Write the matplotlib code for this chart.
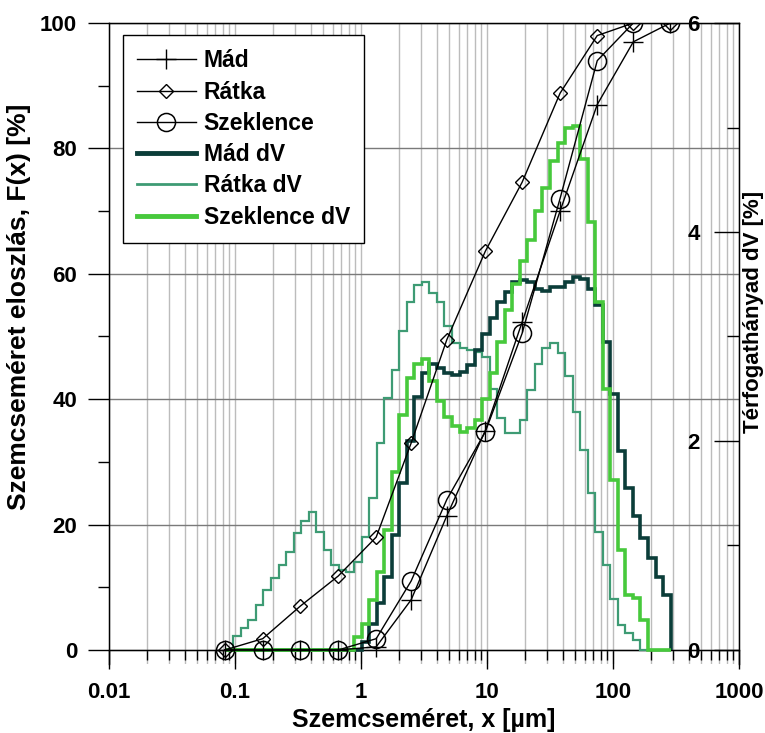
import matplotlib
matplotlib.use("Agg")
import matplotlib.pyplot as plt
from matplotlib.lines import Line2D
from matplotlib.ticker import FixedLocator, FixedFormatter, LogLocator, NullFormatter

plt.rcParams['font.family'] = ['Liberation Sans', 'DejaVu Sans']
plt.rcParams['font.weight'] = 'bold'

# ---- cumulative distribution F(x) [%] (left axis) ----
sizes = [0.083, 0.166, 0.33, 0.66, 1.32, 2.5, 4.8, 9.7, 19, 38, 75, 145, 285]
F_mad = [0, 0, 0, 0, 0.5, 8, 21.4, 35, 52.3, 70, 87, 97, 100]
F_ratka = [0, 1.8, 7, 11.8, 18, 33, 49.5, 63.6, 74.6, 88.8, 98, 100, 100]
F_szeklence = [0, 0, 0, 0, 1.8, 11, 24, 34.8, 50.5, 72, 94, 100, 100]

# ---- volume fraction dV [%] per size class (right axis) ----
bin_edges = [0.0845, 0.0970, 0.1113, 0.1278, 0.1467, 0.1683, 0.1932, 0.2218, 0.2545, 0.2921,
             0.3352, 0.3848, 0.4416, 0.5068, 0.5817, 0.6677, 0.7663, 0.8796, 1.0095, 1.1586,
             1.3298, 1.5262, 1.7517, 2.0105, 2.3075, 2.6484, 3.0397, 3.4888, 4.0042, 4.5958,
             5.2747, 6.0540, 6.9484, 7.9749, 9.1531, 10.505, 12.057, 13.839, 15.883, 18.230,
             20.923, 24.014, 27.562, 31.634, 36.308, 41.672, 47.829, 54.895, 63.005, 72.313,
             82.996, 95.258, 109.33, 125.48, 144.02, 165.30, 189.72, 217.75, 249.92, 286.84]

dV_ratka = [0, 0.13, 0.21, 0.29, 0.43, 0.57, 0.69, 0.81, 0.94, 1.12,
            1.23, 1.32, 1.13, 0.96, 0.81, 0.77, 0.75, 0.84, 1.08, 1.45,
            1.98, 2.41, 2.68, 3.05, 3.33, 3.49, 3.52, 3.42, 3.33, 3.10,
            2.94, 2.89, 2.87, 2.85, 2.80, 2.50, 2.22, 2.08, 2.08, 2.20,
            2.49, 2.74, 2.89, 2.94, 2.84, 2.62, 2.28, 1.91, 1.50, 1.13,
            0.81, 0.49, 0.24, 0.16, 0.10, 0, 0, 0, 0]

dV_mad = [0, 0, 0, 0, 0, 0, 0, 0, 0, 0,
          0, 0, 0, 0, 0, 0, 0, 0, 0.08, 0.25,
          0.45, 0.70, 1.10, 1.60, 2.00, 2.42, 2.65, 2.74, 2.70, 2.65,
          2.63, 2.66, 2.73, 2.87, 3.02, 3.18, 3.33, 3.43, 3.52, 3.54,
          3.52, 3.45, 3.44, 3.47, 3.47, 3.52, 3.57, 3.55, 3.45, 3.30,
          2.95, 2.45, 1.90, 1.55, 1.28, 1.07, 0.88, 0.70, 0.53]

dV_szeklence = [0, 0, 0, 0, 0, 0, 0, 0, 0, 0,
                0, 0, 0, 0, 0, 0, 0, 0.12, 0.25, 0.48,
                0.75, 1.15, 1.70, 2.25, 2.60, 2.74, 2.78, 2.57, 2.38, 2.23,
                2.14, 2.09, 2.12, 2.20, 2.40, 2.65, 2.95, 3.25, 3.50, 3.72,
                3.92, 4.20, 4.42, 4.68, 4.85, 5.00, 5.01, 4.70, 4.10, 3.33,
                2.50, 1.63, 0.96, 0.53, 0.50, 0.29, 0, 0, 0]

x_ticks = [0.01, 0.1, 1, 10, 100, 1000]
x_tick_labels = ['0.01', '0.1', '1', '10', '100', '1000']
F_ticks = [0, 20, 40, 60, 80, 100]
F_minor = [10, 30, 50, 70, 90]
dV_ticks = [0, 2, 4, 6]
dV_minor = [1, 3, 5]

C_MAD = '#0b3d39'
C_RATKA = '#3e9b74'
C_SZEK = '#47c93c'

fig = plt.figure(figsize=(7.65, 7.33), dpi=100)
pos = [0.1425, 0.0936, 0.8235, 0.875]
ax = fig.add_axes(pos)
ax.set_xscale('log')
ax.set_xlim(0.01, 1000)
ax.set_ylim(-2.3, 100)

# axes styling
ax.spines['bottom'].set_position(('data', 0))
for s in ax.spines.values():
    s.set_color('black')
    s.set_linewidth(1)
ax.xaxis.set_major_locator(FixedLocator(x_ticks))
ax.xaxis.set_major_formatter(FixedFormatter(x_tick_labels))
ax.xaxis.set_minor_locator(LogLocator(base=10, subs=[2, 3, 4, 5, 6, 7, 8, 9], numticks=20))
ax.xaxis.set_minor_formatter(NullFormatter())
ax.yaxis.set_major_locator(FixedLocator(F_ticks))
ax.yaxis.set_minor_locator(FixedLocator(F_minor))
ax.tick_params(axis='x', which='major', direction='out', length=14, width=1, labelsize=16, pad=9)
ax.tick_params(axis='x', which='minor', direction='out', length=7, width=1)
ax.tick_params(axis='y', which='major', direction='out', length=15, width=1, labelsize=16, pad=8)
ax.tick_params(axis='y', which='minor', direction='out', length=8, width=1)
ax.tick_params(top=False, right=False, which='both')
ax.grid(True, which='both', axis='x', color='#bcbcbc', lw=1)
ax.grid(True, which='major', axis='y', color='#7a7a7a', lw=1)
ax.set_axisbelow(True)

ax.set_xlabel('Szemcseméret, x [µm]', fontsize=18, fontweight='bold')
ax.xaxis.set_label_coords(0.5, -0.068)
ax.set_ylabel('Szemcseméret eloszlás, F(x) [%]', fontsize=19, fontweight='bold')
ax.yaxis.set_label_coords(-0.124, 0.558)

# right axis (dV)
ax2 = ax.twinx()
ax2.set_ylim(-0.138, 6)
ax2.spines['bottom'].set_visible(False)
ax2.yaxis.set_major_locator(FixedLocator(dV_ticks))
ax2.yaxis.set_minor_locator(FixedLocator(dV_minor))
ax2.tick_params(axis='y', which='major', direction='in', length=18, width=1, labelsize=16, pad=-37)
ax2.tick_params(axis='y', which='minor', direction='in', length=9, width=1)
ax2.set_ylabel('Térfogathányad dV [%]', fontsize=16, fontweight='bold')
ax2.yaxis.set_label_coords(1.006, 0.55)

ax2.stairs(dV_ratka, bin_edges, baseline=0, color=C_RATKA, lw=1.6)
ax2.stairs(dV_mad, bin_edges, baseline=0, color=C_MAD, lw=2.6)
ax2.stairs(dV_szeklence, bin_edges, baseline=0, color=C_SZEK, lw=2.6)

# cumulative curves on top
axc = fig.add_axes(pos, sharex=ax, sharey=ax)
axc.set_zorder(ax2.get_zorder() + 1)
axc.patch.set_visible(False)
axc.axis('off')
axc.plot(sizes, F_mad, color='black', lw=1, marker='+', ms=14, mew=1)
axc.plot(sizes, F_ratka, color='black', lw=1, marker='D', ms=7.5, mfc='none', mew=1)
axc.plot(sizes, F_szeklence, color='black', lw=1, marker='o', ms=13, mfc='none', mew=1.1)

handles = [
    Line2D([], [], color='black', lw=1, marker='+', ms=14, mew=1),
    Line2D([], [], color='black', lw=1, marker='D', ms=7.5, mfc='none', mew=1),
    Line2D([], [], color='black', lw=1, marker='o', ms=13, mfc='none', mew=1.1),
    Line2D([], [], color=C_MAD, lw=3.5),
    Line2D([], [], color=C_RATKA, lw=2),
    Line2D([], [], color=C_SZEK, lw=3.5),
]
labels = ['Mád', 'Rátka', 'Szeklence', 'Mád dV', 'Rátka dV', 'Szeklence dV']
leg = axc.legend(handles, labels, loc='upper left', bbox_to_anchor=(0.022, 0.981),
                 borderaxespad=0, fancybox=False, framealpha=1, edgecolor='black',
                 handlelength=2.55, labelspacing=0.36, handletextpad=0.35,
                 borderpad=0.62, prop={'weight': 'bold', 'size': 16.5})
leg.get_frame().set_linewidth(1)

fig.savefig('out.png', dpi=100)
